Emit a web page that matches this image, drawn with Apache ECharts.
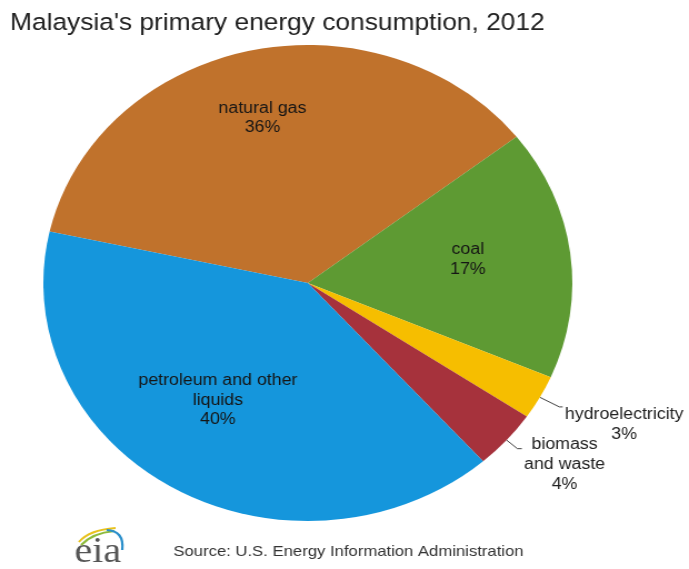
<!DOCTYPE html>
<html>
<head>
<meta charset="utf-8">
<script src="https://cdn.jsdelivr.net/npm/echarts@6/dist/echarts.min.js"></script>
<style>
  html, body { margin: 0; padding: 0; background: #ffffff; overflow: hidden; }
  #wrap { width: 689px; height: 569px; overflow: hidden; }
  /* the chart is laid out narrower and widened horizontally, giving the oval pie */
  #chart { width: 680px; height: 569px; transform: scaleX(1.1113); transform-origin: 0 0; }
</style>
</head>
<body>
<div id="wrap"><div id="chart"></div></div>
<script>
// Primary energy consumption shares, 2012 (percent)
const categories = ['natural gas', 'coal', 'hydroelectricity', 'biomass\nand waste', 'petroleum and other\nliquids'];
const shares = [36, 17, 3, 4, 40];
const colors = ['#C0722C', '#5E9A33', '#F6BE00', '#A6323C', '#1596DC'];

const titleText = "Malaysia's primary energy consumption, 2012";
const sourceText = 'Source: U.S. Energy Information Administration';

const FONT = '"Liberation Sans", Arial, Helvetica, sans-serif';

// label placement per slice: inside labels nudged, small slices labelled outside
const labelStyles = [
  { position: 'inside', offset: [-14, -46] },
  { position: 'inside', offset: [23, -8] },
  { position: 'outside', padding: [35, 0, 0, 0], lineLen: [20, 3] },
  { position: 'outside', padding: [31, 0, 0, 0], lineLen: [13, 4] },
  { position: 'inside', offset: [-19, 12] }
];

const pieData = categories.map((name, i) => {
  const ls = labelStyles[i];
  const item = {
    name: name,
    value: shares[i],
    itemStyle: { color: colors[i] }
  };
  if (ls.position === 'inside') {
    item.label = { position: 'inside', offset: ls.offset };
    item.labelLine = { show: false };
  } else {
    item.label = {
      position: 'outside',
      padding: ls.padding,
      overflow: 'none',
      formatter: p => p.name.split('\n').map(s => '{c|' + s + '}').join('\n') + '\n{c|' + p.value + '%}'
    };
    item.labelLine = { show: true, length: ls.lineLen[0], length2: ls.lineLen[1] };
  }
  return item;
});

const chart = echarts.init(document.getElementById('chart'), null, { renderer: 'canvas' });

chart.setOption({
  animation: false,
  backgroundColor: '#ffffff',
  title: {
    text: titleText,
    left: 9,
    top: 11,
    padding: 0,
    textStyle: { fontFamily: FONT, fontSize: 23.7, fontWeight: 'normal', color: '#222222' }
  },
  series: [{
    type: 'pie',
    center: [277, 283],
    radius: 238,
    startAngle: 167.5,
    clockwise: true,
    avoidLabelOverlap: false,
    labelLayout: { hideOverlap: false, moveOverlap: null },
    silent: true,
    emphasis: { disabled: true, scale: false },
    itemStyle: { borderWidth: 0 },
    label: {
      show: true,
      fontFamily: FONT,
      fontSize: 16,
      lineHeight: 19.5,
      color: '#151515',
      distanceToLabelLine: 2,
      bleedMargin: 0,
      formatter: p => p.name + '\n' + p.value + '%',
      rich: {
        c: { fontFamily: FONT, fontSize: 16, lineHeight: 20, color: '#222222', align: 'center' }
      }
    },
    labelLine: {
      lineStyle: { color: '#444444', width: 1 }
    },
    data: pieData
  }],
  graphic: [
    {
      type: 'text',
      left: 156,
      top: 544,
      style: { text: sourceText, font: '15px ' + FONT, fill: '#333333' }
    },
    {
      type: 'text',
      x: 67,
      y: 553,
      style: { text: 'eia', font: '36px "Liberation Serif", "Times New Roman", serif', fill: '#555555', verticalAlign: 'middle' }
    },
    {
      type: 'bezierCurve',
      shape: { x1: 71, y1: 542, cpx1: 80, cpy1: 530, x2: 104, y2: 528 },
      style: { stroke: '#E8C21C', lineWidth: 2, fill: null }
    },
    {
      type: 'bezierCurve',
      shape: { x1: 73, y1: 545, cpx1: 83, cpy1: 533, x2: 103, y2: 531 },
      style: { stroke: '#8DBB3A', lineWidth: 2, fill: null }
    },
    {
      type: 'bezierCurve',
      shape: { x1: 96, y1: 530, cpx1: 112, cpy1: 531, x2: 110, y2: 550 },
      style: { stroke: '#2A8FCB', lineWidth: 2.2, fill: null }
    }
  ]
});
</script>
</body>
</html>
